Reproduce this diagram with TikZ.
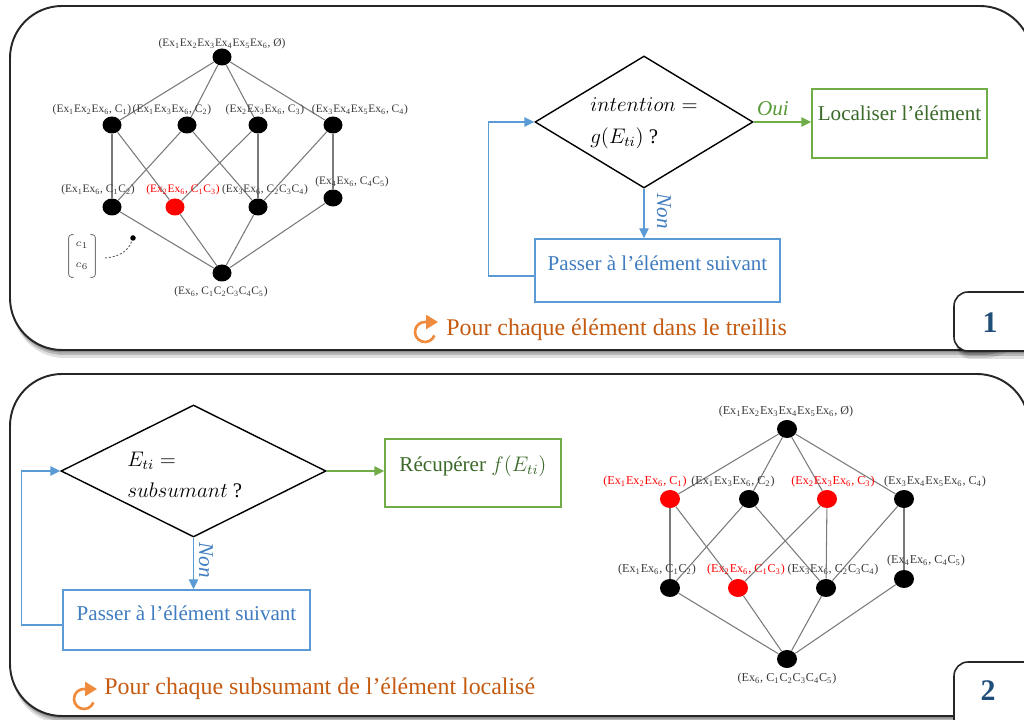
\documentclass[tikz,border=0pt]{standalone}
\usepackage{fontspec}
\setmainfont{Liberation Serif}
\usetikzlibrary{shapes.geometric, arrows.meta, shadows, calc}

\definecolor{gbord}{HTML}{70AD47}
\definecolor{gtext}{HTML}{3B6A2A}
\definecolor{gdark}{HTML}{5A9A3A}
\definecolor{bbord}{HTML}{5B9BD5}
\definecolor{btext}{HTML}{3F7DC0}
\definecolor{otext}{HTML}{C55A11}
\definecolor{oicon}{HTML}{F08A3C}
\definecolor{nblue}{HTML}{1F4E79}
\definecolor{lgray}{HTML}{7A7A7A}
\definecolor{labgray}{HTML}{3A3A3A}
\definecolor{lred}{HTML}{FF0000}

\newcommand{\Ex}[1]{Ex\textsubscript{#1}}
\newcommand{\Cc}[1]{C\textsubscript{#1}}

\tikzset{
  shad/.style={drop shadow={shadow xshift=0.5mm, shadow yshift=-1.6mm, opacity=0.12, fill=black},
               drop shadow={shadow xshift=0.35mm, shadow yshift=-1.0mm, opacity=0.18, fill=black},
               drop shadow={shadow xshift=0.2mm, shadow yshift=-0.5mm, opacity=0.22, fill=black}},
  panel/.style={draw=black!85, line width=1.1pt, fill=white, rounded corners=10.4mm, shad},
  numbox/.style={draw=black!85, line width=0.9pt, fill=white, rounded corners=2.8mm, shad},
  numtxt/.style={font=\fontsize{17}{20}\selectfont\bfseries, text=nblue, inner sep=0},
  lnode/.style={ellipse, fill=black, inner sep=0, minimum width=3.8mm, minimum height=3.4mm},
  rnode/.style={lnode, fill=lred},
  lnodeB/.style={ellipse, fill=black, inner sep=0, minimum width=4mm, minimum height=3.6mm},
  rnodeB/.style={lnodeB, fill=lred},
  ledge/.style={draw=lgray, line width=0.6pt},
  llab/.style={font=\fontsize{6.5}{7}\selectfont, text=labgray, inner sep=0},
  rlab/.style={llab, text=lred},
  llabB/.style={font=\fontsize{6.9}{7.5}\selectfont, text=labgray, inner sep=0},
  rlabB/.style={llabB, text=lred},
  dia/.style={diamond, draw=black, line width=0.8pt, inner sep=0, fill=white},
  gbox/.style={draw=gbord, line width=0.8pt, inner sep=0},
  bbox/.style={draw=bbord, line width=0.8pt, inner sep=0},
  gtxt/.style={font=\fontsize{12}{14}\selectfont, text=gtext, inner sep=0},
  btxt/.style={font=\fontsize{12}{14}\selectfont, text=btext, inner sep=0},
  mtxt/.style={font=\fontsize{11.8}{18}\selectfont, inner sep=0, align=left},
  garrow/.style={draw=gbord, line width=0.8pt, -{Triangle[length=2mm,width=1.9mm]}},
  barrow/.style={draw=bbord, line width=0.8pt, -{Triangle[length=2mm,width=1.9mm]}},
  ouitxt/.style={font=\fontsize{12}{14}\selectfont\itshape, text=gdark, inner sep=0},
  nontxt/.style={font=\fontsize{12}{14}\selectfont\itshape, text=btext, inner sep=0, rotate=-90},
  otxt/.style={font=\fontsize{13.6}{16}\selectfont, text=otext, inner sep=0},
  ocirc/.style={draw=oicon, line width=1.5pt, -{Triangle[length=2.4mm,width=2.8mm]}},
}

\begin{document}
\begin{tikzpicture}[x=0.2mm, y=-0.2mm]
\clip (0,0) rectangle (1024,720);
\fill[white] (0,0) rectangle (1024,720);

% ---------- panels ----------
\draw[panel] (10,6) rectangle (1032,350);
\draw[panel] (10,374) rectangle (1029,716);

% ================= PANEL 1 =================
\node[lnode] (pT)  at (222,57) {};
\node[lnode] (pa1) at (112,125) {};
\node[lnode] (pa2) at (187,125) {};
\node[lnode] (pa3) at (258,125) {};
\node[lnode] (pa4) at (333,125) {};
\node[lnode] (pb1) at (112,207) {};
\node[rnode] (pb2) at (175,207) {};
\node[lnode] (pb3) at (258,207) {};
\node[lnode] (pb4) at (333,198) {};
\node[lnode] (pB)  at (222,273) {};
\foreach \n in {pa1,pa2,pa3,pa4} \draw[ledge] (pT) -- (\n);
\draw[ledge] (pa1) -- (pb1); \draw[ledge] (pa1) -- (pb2);
\draw[ledge] (pa2) -- (pb1); \draw[ledge] (pa2) -- (pb3);
\draw[ledge] (pa3) -- (pb2); \draw[ledge] (pa3) -- (pb3);
\draw[ledge] (pa4) -- (pb3); \draw[ledge] (pa4) -- (pb4);
\foreach \n in {pb1,pb2,pb3,pb4} \draw[ledge] (\n) -- (pB);
\node[llab] (lpT)  at (222,44)  {(\Ex1\Ex2\Ex3\Ex4\Ex5\Ex6, Ø)};
\node[llab] (lpa1) at (92,110)  {(\Ex1\Ex2\Ex6, \Cc1)};
\node[llab] (lpa2) at (172,110) {(\Ex1\Ex3\Ex6, \Cc2)};
\node[llab] (lpa3) at (265,110) {(\Ex2\Ex3\Ex6, \Cc3)};
\node[llab] (lpa4) at (360,110) {(\Ex3\Ex4\Ex5\Ex6, \Cc4)};
\node[llab] (lpb1) at (98,190)  {(\Ex1\Ex6, \Cc1\Cc2)};
\node[rlab] (lpb2) at (183,190) {(\Ex2\Ex6, \Cc1\Cc3)};
\node[llab] (lpb3) at (265,190) {(\Ex3\Ex6, \Cc2\Cc3\Cc4)};
\node[llab] (lpb4) at (352,182) {(\Ex4\Ex6, \Cc4\Cc5)};
\node[llab] (lpB)  at (221,292) {(\Ex6, \Cc1\Cc2\Cc3\Cc4\Cc5)};

% small matrix
\node[minimum width=5.2mm, minimum height=8.4mm, inner sep=0] (mat) at (82,256) {};
\draw[lgray, line width=0.5pt, rounded corners=0.6mm] ([xshift=1mm]mat.north west) -| (mat.south west) -- ++(1mm,0);
\draw[lgray, line width=0.5pt, rounded corners=0.6mm] ([xshift=-1mm]mat.north east) -| (mat.south east) -- ++(-1mm,0);
\node[font=\fontsize{6}{7}\selectfont, text=labgray, inner sep=0] (mc1) at (82,245) {$c_1$};
\node[font=\fontsize{6}{7}\selectfont, text=labgray, inner sep=0] (mc6) at (82,266) {$c_6$};
\node[circle, fill=black, inner sep=0, minimum size=1.1mm] (mdot) at (133,238) {};
\coordinate (dstart) at (105,258);
\draw[lgray!80!black, line width=0.5pt, dash pattern=on 1.2pt off 1pt] (dstart) to[out=5, in=-110] (mdot);

% flowchart 1
\node[dia, minimum width=43.6mm, minimum height=26.4mm] (d1) at (644,122) {};
\node[mtxt, anchor=west] (t1) at (590,123) {$intention =$\\$g(E_{ti})$ ?};
\node[gbox, minimum width=35mm, minimum height=13.8mm] (loc) at (899.5,123.5) {};
\node[gtxt] (loct) at (899.5,113) {Localiser l’élément};
\node[bbox, minimum width=49mm, minimum height=12.6mm] (pas1) at (657.5,270.5) {};
\node[btxt] (pas1t) at (657.5,263) {Passer à l’élément suivant};
\draw[garrow] (d1.east) -- (d1.east -| loc.west);
\node[ouitxt] (oui) at (773,109) {Oui};
\draw[barrow] (d1.south) -- (pas1.north -| d1.south);
\node[nontxt] (non1) at (664,211) {Non};
\draw[barrow] ([yshift=-1.1mm]pas1.west) -- ++(-46,0) |- (d1.west);

\coordinate (ic1) at (425,332);
\draw[ocirc] ($(ic1)+(20:10)$) arc[start angle=20, end angle=270, radius=10] -- ++(13,0);
\node[otxt, anchor=west] (o1) at (446,330) {Pour chaque élément dans le treillis};

\draw[numbox] (954,292) rectangle (1060,351);
\node[numtxt] (n1) at (990,323) {1};

% ================= PANEL 2 =================
\node[rnodeB] (qa1) at (670,499) {};
\node[lnodeB] (qT)  at (787,429) {};
\node[lnodeB] (qa2) at (749,499) {};
\node[rnodeB] (qa3) at (827,499) {};
\node[lnodeB] (qa4) at (904,499) {};
\node[lnodeB] (qb1) at (670,588) {};
\node[rnodeB] (qb2) at (738,588) {};
\node[lnodeB] (qb3) at (826,588) {};
\node[lnodeB] (qb4) at (904,579) {};
\node[lnodeB] (qB)  at (787,659) {};
\foreach \n in {qa1,qa2,qa3,qa4} \draw[ledge] (qT) -- (\n);
\draw[ledge] (qa1) -- (qb1); \draw[ledge] (qa1) -- (qb2);
\draw[ledge] (qa2) -- (qb1); \draw[ledge] (qa2) -- (qb3);
\draw[ledge] (qa3) -- (qb2); \draw[ledge] (qa3) -- (qb3);
\draw[ledge] (qa4) -- (qb3); \draw[ledge] (qa4) -- (qb4);
\foreach \n in {qb1,qb2,qb3,qb4} \draw[ledge] (\n) -- (qB);
\node[llabB] (lqT)  at (786,412) {(\Ex1\Ex2\Ex3\Ex4\Ex5\Ex6, Ø)};
\node[rlabB] (lqa1) at (645,482) {(\Ex1\Ex2\Ex6, \Cc1)};
\node[llabB] (lqa2) at (733,482) {(\Ex1\Ex3\Ex6, \Cc2)};
\node[rlabB] (lqa3) at (833,482) {(\Ex2\Ex3\Ex6, \Cc3)};
\node[llabB] (lqa4) at (935,482) {(\Ex3\Ex4\Ex5\Ex6, \Cc4)};
\node[llabB] (lqb1) at (657,570) {(\Ex1\Ex6, \Cc1\Cc2)};
\node[rlabB] (lqb2) at (746,570) {(\Ex2\Ex6, \Cc1\Cc3)};
\node[llabB] (lqb3) at (833,570) {(\Ex3\Ex6, \Cc2\Cc3\Cc4)};
\node[llabB] (lqb4) at (926,561) {(\Ex4\Ex6, \Cc4\Cc5)};
\node[llabB] (lqB)  at (787,679) {(\Ex6, \Cc1\Cc2\Cc3\Cc4\Cc5)};

% flowchart 2
\node[dia, minimum width=53mm, minimum height=26.4mm] (d2) at (193.5,471) {};
\node[mtxt, anchor=west] (t2) at (127,475) {$E_{ti} =$\\$subsumant$ ?};
\node[gbox, minimum width=35.2mm, minimum height=13.6mm] (rec) at (473,473) {};
\node[gtxt] (rect) at (473,466) {Récupérer $f(E_{ti})$};
\node[bbox, minimum width=49.4mm, minimum height=12mm] (pas2) at (186.5,620) {};
\node[btxt] (pas2t) at (186.5,613) {Passer à l’élément suivant};
\draw[garrow] (d2.east) -- (d2.east -| rec.west);
\draw[barrow] (d2.south) -- (pas2.north -| d2.south);
\node[nontxt] (non2) at (206,560) {Non};
\draw[barrow] ([yshift=-1mm]pas2.west) -- ++(-41,0) |- (d2.west);

\coordinate (ic2) at (84,699);
\draw[ocirc] ($(ic2)+(20:10)$) arc[start angle=20, end angle=270, radius=10] -- ++(13,0);
\node[otxt, anchor=west] (o2) at (104,689) {Pour chaque subsumant de l’élément localisé};

\draw[numbox] (954,662) rectangle (1060,740);
\node[numtxt] (n2) at (988,691) {2};
\end{tikzpicture}
\end{document}
